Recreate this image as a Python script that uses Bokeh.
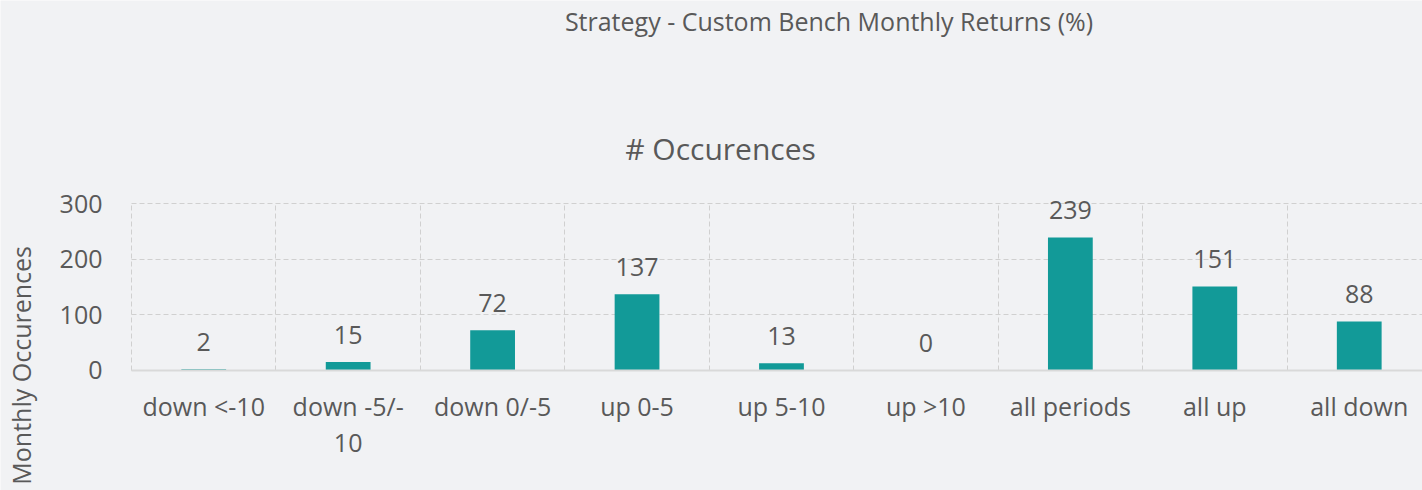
import math
from bokeh.plotting import figure
from bokeh.models import Range1d, FixedTicker, Label, ColumnDataSource
from bokeh.core.properties import value
from bokeh.embed import file_html
from bokeh.resources import INLINE

# ---- data ----
categories = ["down <-10", "down -5/-\n10", "down 0/-5", "up 0-5", "up 5-10",
              "up >10", "all periods", "all up", "all down"]
occurrences = [2, 15, 72, 137, 13, 0, 239, 151, 88]
y_ticks = [0, 100, 200, 300]
main_title = "Strategy - Custom Bench Monthly Returns (%)"
chart_title = "# Occurences"
y_title = "Monthly Occurences"

FONT = "Open Sans"
TXT = "#595959"
BG = "#f1f2f4"
BAR = "#129a98"
GRID = "#d0d0d0"

n = len(categories)
xpos = [i + 0.5 for i in range(n)]
src = ColumnDataSource(dict(x=xpos, top=occurrences, label=[str(v) for v in occurrences]))

p = figure(width=1422, height=490,
           x_range=Range1d(-0.907, 8.938), y_range=Range1d(-216, 665),
           output_backend="svg", toolbar_location=None,
           min_border=0, background_fill_color=BG, border_fill_color=BG,
           outline_line_color=None)

# grids limited to the plot area
p.xgrid.ticker = FixedTicker(ticks=list(range(n + 1)))
p.xgrid.cross_bounds = (y_ticks[0], y_ticks[-1])
p.ygrid.ticker = FixedTicker(ticks=y_ticks)
p.ygrid.cross_bounds = (0, n)
for g in (p.xgrid[0], p.ygrid[0]):
    g.grid_line_color = GRID
    g.grid_line_dash = "5 3"
    g.grid_line_width = 1

p.vbar(x="x", top="top", width=0.31, bottom=0, source=src,
       fill_color=BAR, line_color=None)

p.text(x="x", y="top", text="label", source=src,
       text_font=value(FONT), text_font_size="25px", text_color=TXT,
       text_align="center", text_baseline="alphabetic", y_offset=-27)

# axes drawn at fixed data locations
xa = p.xaxis[0]
xa.fixed_location = 0
xa.ticker = FixedTicker(ticks=xpos)
xa.major_label_overrides = {x: c for x, c in zip(xpos, categories)}
xa.major_tick_line_color = None
xa.minor_tick_line_color = None
xa.axis_line_color = "#d9d9d9"
xa.axis_line_width = 2
xa.bounds = (0, n)
xa.major_label_text_font = FONT
xa.major_label_text_font_size = "25px"
xa.major_label_text_color = TXT
xa.major_label_standoff = 13
xa.major_label_text_line_height = 1.05

ya = p.yaxis[0]
ya.fixed_location = 0
ya.ticker = FixedTicker(ticks=y_ticks)
ya.bounds = (y_ticks[0], y_ticks[-1])
ya.major_tick_line_color = None
ya.minor_tick_line_color = None
ya.axis_line_color = None
ya.major_label_text_font = FONT
ya.major_label_text_font_size = "25px"
ya.major_label_text_color = TXT
ya.major_label_standoff = 23

# titles
p.add_layout(Label(x=4.829, y=629, text=main_title, text_font=FONT,
                   text_font_size="25px", text_color=TXT,
                   text_align="center", text_baseline="alphabetic"))
p.add_layout(Label(x=4.078, y=399, text=chart_title, text_font=FONT,
                   text_font_size="30px", text_color=TXT,
                   text_align="center", text_baseline="alphabetic"))
p.add_layout(Label(x=-0.768, y=9, text=y_title, text_font=FONT,
                   text_font_size="25px", text_color=TXT, angle=math.pi / 2,
                   text_align="center", text_baseline="alphabetic"))

open("out.html", "w").write(file_html(p, INLINE))
